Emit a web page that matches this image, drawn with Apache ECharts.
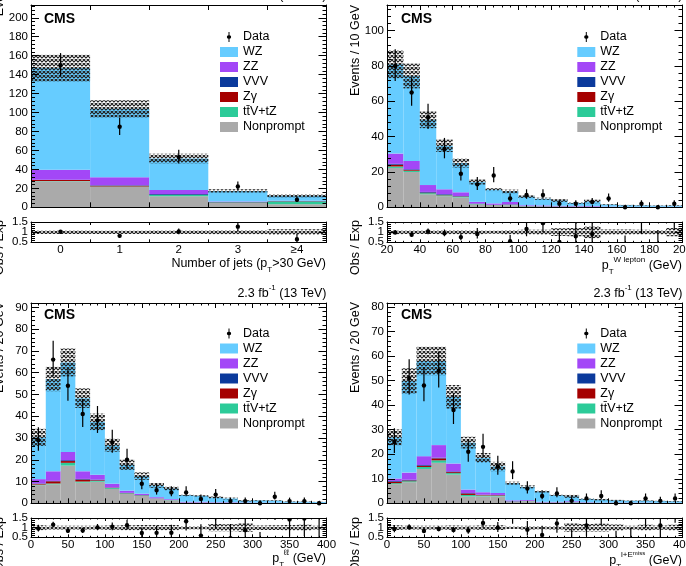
<!DOCTYPE html>
<html>
<head>
<meta charset="utf-8">
<script src="https://cdn.jsdelivr.net/npm/echarts@6/dist/echarts.min.js"></script>
<style>
  html, body { margin: 0; padding: 0; background: #fff; }
  #chart { width: 686px; height: 566px; }
</style>
</head>
<body>
<div id="chart"></div>
<script>
// --- number of jets (top left) ---
const njetEdges = [-0.5, 0.5, 1.5, 2.5, 3.5, 4.5]
const njetLabels = ['0', '1', '2', '3', '≥4']
const njetNonprompt = [27.5, 21.5, 11.7, 4.5, 3.2]
const njetTTV = [0.3, 0.5, 1.2, 0.5, 3.0]
const njetZg = [1.0, 0.8, 0.3, 0.2, 0.1]
const njetVVV = [0.2, 0.5, 0.8, 0.3, 0.3]
const njetZZ = [10.5, 8.4, 4.3, 0.6, 0.4]
const njetWZ = [107.5, 72.3, 33.2, 11.2, 5.3]
const njetData = [150, 85, 53, 22, 8]
const njetUnc = [14, 9, 5, 1.8, 1.7]

// --- pT of the W lepton (top right) ---
const lepEdges = [20, 30, 40, 50, 60, 70, 80, 90, 100, 110, 120, 130, 140, 150, 160, 170, 180, 190, 200]
const lepNonprompt = [22.3, 20.0, 7.4, 6.3, 5.6, 1.5, 1.0, 1.2, 0.5, 0.4, 0.3, 0.3, 0.2, 0.1, 0.1, 0.1, 0.1, 0.1]
const lepTTV = [0.8, 0.7, 0.6, 0.5, 0.4, 0.3, 0.2, 0.2, 0.1, 0.1, 0.1, 0.1, 0.1, 0.05, 0.05, 0.05, 0.05, 0.05]
const lepZg = [1.0, 0.4, 0.3, 0.2, 0.2, 0.1, 0.1, 0.1, 0.05, 0.05, 0.05, 0, 0, 0, 0, 0, 0, 0]
const lepVVV = [0.5, 0.4, 0.4, 0.4, 0.2, 0.2, 0.1, 0.2, 0.1, 0.1, 0.1, 0.1, 0.1, 0.05, 0.05, 0.05, 0.05, 0.05]
const lepZZ = [5.8, 4.7, 3.9, 2.8, 2.1, 1.0, 0.8, 1.3, 0.4, 0.4, 0.3, 0.3, 0.3, 0.2, 0.1, 0.1, 0.1, 0.1]
const lepWZ = [50.6, 48.1, 36.9, 24.6, 16.6, 11.2, 7.8, 6.0, 4.9, 3.8, 3.0, 1.7, 2.6, 1.1, 0.9, 0.8, 0.6, 0.6]
const lepData = [80, 65, 51, 33, 19, 13, 18, 5, 7, 7, 2, 2, 3, 5, 0, 2, 0, 2]
const lepUnc = [8, 7, 4.7, 3.5, 2.6, 1.4, 0.8, 1.0, 0.7, 0.6, 0.75, 0.5, 1.0, 0.2, 0.15, 0.13, 0.1, 0.18]

// --- pT of the dilepton pair (bottom left) ---
const llEdges = [0, 20, 40, 60, 80, 100, 120, 140, 160, 180, 200, 220, 240, 260, 280, 300, 320, 340, 360, 380, 400]
const llNonprompt = [8.3, 8.7, 17.3, 9.5, 9.9, 6.6, 4.3, 3.4, 2.1, 1.4, 0.3, 0.3, 0.2, 0.2, 0.1, 0.1, 0.1, 0.05, 0.05, 0.05]
const llTTV = [0.3, 0.4, 1.3, 0.5, 0.4, 0.4, 0.3, 0.2, 0.1, 0.1, 0.05, 0.05, 0.05, 0.05, 0.05, 0.05, 0.05, 0.05, 0.05, 0.05]
const llZg = [0.3, 1.0, 0.8, 0.9, 0.3, 0.2, 0.1, 0.1, 0.05, 0, 0, 0, 0, 0, 0, 0, 0, 0, 0, 0]
const llVVV = [0.2, 0.2, 0.4, 0.3, 0.3, 0.1, 0.1, 0.1, 0.05, 0.05, 0.05, 0.05, 0.05, 0.05, 0.05, 0.05, 0.05, 0.05, 0.05, 0.05]
const llZZ = [2.0, 4.4, 3.8, 3.5, 2.2, 1.7, 1.0, 0.6, 0.5, 0.35, 0.3, 0.3, 0.2, 0.2, 0.15, 0.1, 0.1, 0.08, 0.08, 0.05]
const llWZ = [19.2, 42.4, 41.1, 33.6, 24.3, 17.7, 11.9, 8.1, 5.4, 4.9, 3.05, 2.7, 2.1, 1.7, 0.8, 1.0, 0.9, 0.47, 0.45, 0.4]
const llData = [29, 66, 54, 41, 38, 28, 20, 9, 6, 5, 5, 2, 4, 1, 1, 0, 3, 1, 1, 0]
const llUnc = [3.9, 5.6, 6.4, 4.5, 3.8, 3.0, 2.3, 1.7, 1.1, 0.9, 0.3, 0.3, 0.5, 0.4, 0.25, 0.15, 0.15, 0.1, 0.1, 0.06]

// --- pT of lepton + MET (bottom right) ---
const metEdges = [0, 20, 40, 60, 80, 100, 120, 140, 160, 180, 200, 220, 240, 260, 280, 300, 320, 340, 360, 380, 400]
const metNonprompt = [7.8, 8.6, 14.0, 16.5, 11.7, 2.8, 2.8, 2.8, 0.6, 0.8, 0.3, 0.3, 0.4, 0.2, 0.1, 0.1, 0.1, 0.1, 0.05, 0.05]
const metTTV = [0.4, 0.4, 0.8, 1.0, 0.6, 0.6, 0.4, 0.3, 0.1, 0.1, 0.05, 0.05, 0.05, 0.05, 0.05, 0.05, 0.05, 0.05, 0.05, 0.05]
const metZg = [0.6, 0.3, 0.5, 0.8, 0.4, 0.6, 0.2, 0.2, 0.05, 0.05, 0, 0, 0, 0, 0, 0, 0, 0, 0, 0]
const metVVV = [0.3, 0.3, 0.3, 0.3, 0.3, 0.2, 0.1, 0.1, 0.1, 0.1, 0.05, 0.05, 0.1, 0.05, 0.05, 0.05, 0.05, 0.05, 0.05, 0.05]
const metZZ = [1.0, 2.9, 3.6, 5.1, 3.2, 1.4, 1.0, 0.8, 0.35, 0.3, 0.2, 0.2, 0.3, 0.15, 0.1, 0.1, 0.1, 0.1, 0.05, 0.05]
const metWZ = [16.8, 37.4, 38.8, 34.3, 27.2, 19.1, 14.0, 10.8, 7.0, 5.35, 4.2, 2.7, 2.0, 1.35, 1.2, 0.9, 0.7, 0.7, 0.7, 0.6]
const metData = [25, 51, 48, 54, 38, 21, 23, 15, 13, 6, 3, 4, 1, 2, 3, 0, 0, 2, 1, 2]
const metUnc = [3.2, 5.1, 5.8, 5.8, 4.8, 2.4, 2.0, 1.9, 0.6, 0.6, 0.4, 0.3, 0.6, 0.35, 0.3, 0.2, 0.1, 0.15, 0.1, 0.12]

// stack order, bottom to top
const NAMES = ['Nonprompt', 'tt\u0304V+tZ', 'Zγ', 'VVV', 'ZZ', 'WZ']
const COLORS = ['#aaaaaa', '#2ccb99', '#a50000', '#0b3a9c', '#a347f7', '#66ccff']
const FONT = "'Liberation Sans', Arial, Helvetica, sans-serif"

function isMult(v, step) {
  const q = v / step
  return Math.abs(q - Math.round(q)) < 1e-6
}
const near = (a, b) => Math.abs(a - b) < 1e-6

const PANELS = [
  {
    edges: njetEdges, comps: [njetNonprompt, njetTTV, njetZg, njetVVV, njetZZ, njetWZ],
    data: njetData, unc: njetUnc,
    left: 31, top: 5, height: 202.3, ratioTop: 222, ratioHeight: 20.3,
    yMax: 213.5, yStep: 20,
    xMin: -0.5, xMax: 4.5, xStep: 1, xMinor: 0, xLabelStep: 0.5,
    xLabel: v => isMult(v, 1) ? njetLabels[Math.round(v)] : '',
    legendLeft: 220, legendTop: 29.5
  },
  {
    edges: lepEdges, comps: [lepNonprompt, lepTTV, lepZg, lepVVV, lepZZ, lepWZ],
    data: lepData, unc: lepUnc,
    left: 387, top: 5, height: 202.3, ratioTop: 222, ratioHeight: 20.3,
    yMax: 114.5, yStep: 20,
    xMin: 20, xMax: 200, xStep: 20, xMinor: 4,
    xLabel: v => isMult(v, 20) ? String(v) : '',
    legendLeft: 577.3, legendTop: 29.5
  },
  {
    edges: llEdges, comps: [llNonprompt, llTTV, llZg, llVVV, llZZ, llWZ],
    data: llData, unc: llUnc,
    left: 31, top: 303, height: 200.3, ratioTop: 518, ratioHeight: 19.3,
    yMax: 92, yStep: 10,
    xMin: 0, xMax: 400, xStep: 50, xMinor: 5,
    xLabel: v => isMult(v, 50) ? String(v) : '',
    legendLeft: 220, legendTop: 326
  },
  {
    edges: metEdges, comps: [metNonprompt, metTTV, metZg, metVVV, metZZ, metWZ],
    data: metData, unc: metUnc,
    left: 387, top: 303, height: 200.3, ratioTop: 518, ratioHeight: 19.3,
    yMax: 81.6, yStep: 10,
    xMin: 0, xMax: 400, xStep: 50, xMinor: 5,
    xLabel: v => isMult(v, 50) ? String(v) : '',
    legendLeft: 577.3, legendTop: 326
  }
]
const PANEL_WIDTH = 295.5

// crosshatch used for the uncertainty band
const hatch = (() => {
  const c = document.createElement('canvas')
  c.width = 4
  c.height = 4
  const g = c.getContext('2d')
  g.strokeStyle = '#222'
  g.lineWidth = 1.15
  g.beginPath()
  g.moveTo(0, 0); g.lineTo(4, 4)
  g.moveTo(4, 0); g.lineTo(0, 4)
  g.stroke()
  return c
})()

// approximate Poisson errors on the data
function poisErr(n) {
  const s = Math.sqrt(n + 0.25)
  return [n > 0 ? s - 0.5 : 0, s + 0.5]
}

function valueAxis(o) {
  return {
    type: 'value', gridIndex: o.grid, position: o.position,
    min: o.min, max: o.max, interval: o.interval,
    z: 5, silent: true,
    axisLine: { show: o.line !== false, onZero: false, lineStyle: { color: '#000', width: 1 } },
    axisTick: { show: o.tick !== false, inside: true, length: o.tickLen || 5, lineStyle: { color: '#000', width: 1 } },
    minorTick: { show: !!o.minor, splitNumber: o.minor || 5, length: (o.tickLen || 5) / 2, lineStyle: { color: '#000', width: 1 } },
    splitLine: { show: false },
    minorSplitLine: { show: false },
    axisLabel: o.labels ? {
      show: true, margin: o.margin, color: '#000', fontFamily: FONT, fontSize: 11.5,
      formatter: o.labels, showMinLabel: true, showMaxLabel: true, hideOverlap: false, interval: 0
    } : { show: false },
    axisPointer: { show: false }
  }
}

function renderBox(params, api) {
  const p0 = api.coord([api.value(0), api.value(2)])
  const p1 = api.coord([api.value(1), api.value(3)])
  return {
    type: 'rect',
    shape: { x: p0[0], y: p1[1], width: p1[0] - p0[0], height: p0[1] - p1[1] },
    style: { fill: api.visual('color') }
  }
}

function renderBand(params, api) {
  const p0 = api.coord([api.value(0), api.value(2)])
  const p1 = api.coord([api.value(1), api.value(3)])
  return {
    type: 'rect',
    shape: { x: p0[0], y: p1[1], width: p1[0] - p0[0], height: p0[1] - p1[1] },
    style: { fill: { image: hatch, repeat: 'repeat' } }
  }
}

function renderPoint(params, api) {
  const c = api.coord([api.value(0), api.value(1)])
  const lo = api.coord([api.value(0), api.value(2)])
  const hi = api.coord([api.value(0), api.value(3)])
  return {
    type: 'group',
    children: [
      { type: 'line', shape: { x1: c[0], y1: lo[1], x2: c[0], y2: hi[1] }, style: { stroke: '#000', lineWidth: 1.2 } },
      { type: 'circle', shape: { cx: c[0], cy: c[1], r: 2.2 }, style: { fill: '#000' } }
    ]
  }
}

const grid = []
const xAxis = []
const yAxis = []
const series = []
const legend = []

const DATA_ICON = 'path://M4.5,0H5.5V3.35A1.65,1.65 0 0 1 5.5,6.65V10H4.5V6.65A1.65,1.65 0 0 1 4.5,3.35Z'
const legendItems = [
  { name: 'Data', icon: DATA_ICON },
  { name: 'WZ', icon: 'rect' },
  { name: 'ZZ', icon: 'rect' },
  { name: 'VVV', icon: 'rect' },
  { name: 'Zγ', icon: 'rect' },
  { name: NAMES[1], icon: 'rect' },
  { name: 'Nonprompt', icon: 'rect' }
]

PANELS.forEach((p, i) => {
  const gMain = grid.length
  grid.push({ left: p.left, top: p.top, width: PANEL_WIDTH, height: p.height, containLabel: false, outerBoundsMode: 'none' })
  const gRatio = grid.length
  grid.push({ left: p.left, top: p.ratioTop, width: PANEL_WIDTH, height: p.ratioHeight, containLabel: false, outerBoundsMode: 'none' })

  const xBase = { min: p.xMin, max: p.xMax, interval: p.xStep, minor: p.xMinor }
  const xMain = xAxis.length
  xAxis.push(valueAxis({ ...xBase, grid: gMain, position: 'bottom', tickLen: 5 }))
  xAxis.push(valueAxis({ ...xBase, grid: gMain, position: 'top', tickLen: 5 }))
  const xRatio = xAxis.length
  xAxis.push(valueAxis({ ...xBase, grid: gRatio, position: 'bottom', tickLen: 3, margin: 1.5, labels: p.xLabelStep ? null : p.xLabel }))
  xAxis.push(valueAxis({ ...xBase, grid: gRatio, position: 'top', tickLen: 3 }))
  if (p.xLabelStep) {
    // labels at bin centres while ticks stay on the bin edges
    xAxis.push(valueAxis({
      grid: gRatio, position: 'bottom', min: p.xMin, max: p.xMax, interval: p.xLabelStep,
      line: false, tick: false, margin: 1.5, labels: p.xLabel
    }))
  }

  const yMain = yAxis.length
  yAxis.push(valueAxis({ grid: gMain, position: 'left', min: 0, max: p.yMax, interval: p.yStep, minor: 5, tickLen: 8, margin: 3,
    labels: v => isMult(v, p.yStep) ? String(v) : '' }))
  yAxis.push(valueAxis({ grid: gMain, position: 'right', min: 0, max: p.yMax, interval: p.yStep, minor: 5, tickLen: 8 }))
  const yRatio = yAxis.length
  yAxis.push(valueAxis({ grid: gRatio, position: 'left', min: 0.5, max: 1.5, interval: 0.5, minor: 5, tickLen: 8, margin: 3,
    labels: v => near(v, 0.5) ? '0.5' : near(v, 1.5) ? '1.5' : '' }))
  yAxis.push(valueAxis({ grid: gRatio, position: 'right', min: 0.5, max: 1.5, interval: 0.5, minor: 5, tickLen: 8 }))
  // the middle ratio label sits on its own axis so it is not dropped as overlapping
  yAxis.push(valueAxis({ grid: gRatio, position: 'left', min: 0.5, max: 1.5, interval: 0.5, line: false, tick: false, margin: 3,
    labels: v => near(v, 1) ? '1' : '' }))

  const nBins = p.data.length
  const totals = []
  const cum = new Array(nBins).fill(0)
  p.comps.forEach((vals, k) => {
    series.push({
      type: 'custom', name: NAMES[k], xAxisIndex: xMain, yAxisIndex: yMain, z: 2,
      itemStyle: { color: COLORS[k] },
      renderItem: renderBox,
      data: vals.map((v, b) => {
        const item = [p.edges[b], p.edges[b + 1], cum[b], cum[b] + v]
        cum[b] += v
        return item
      })
    })
  })
  for (let b = 0; b < nBins; b++) totals.push(cum[b])

  // total uncertainty band, main and ratio
  series.push({
    type: 'custom', name: 'unc', xAxisIndex: xMain, yAxisIndex: yMain, z: 3,
    renderItem: renderBand,
    data: totals.map((t, b) => [p.edges[b], p.edges[b + 1], t - p.unc[b], t + p.unc[b]])
  })
  series.push({
    type: 'custom', name: 'unc', xAxisIndex: xRatio, yAxisIndex: yRatio, z: 3, clip: true,
    renderItem: renderBand,
    data: totals.map((t, b) => [p.edges[b], p.edges[b + 1], 1 - p.unc[b] / t, 1 + p.unc[b] / t])
  })

  // data points
  const centres = p.data.map((d, b) => (p.edges[b] + p.edges[b + 1]) / 2)
  series.push({
    type: 'custom', name: 'Data', xAxisIndex: xMain, yAxisIndex: yMain, z: 4,
    itemStyle: { color: '#000' },
    renderItem: renderPoint,
    data: p.data.map((d, b) => {
      const e = poisErr(d)
      return [centres[b], d, d - e[0], d + e[1]]
    })
  })
  series.push({
    type: 'custom', name: 'Data', xAxisIndex: xRatio, yAxisIndex: yRatio, z: 4, clip: true,
    itemStyle: { color: '#000' },
    renderItem: renderPoint,
    data: p.data.map((d, b) => {
      const e = poisErr(d)
      const t = totals[b]
      return [centres[b], d / t, (d - e[0]) / t, (d + e[1]) / t]
    })
  })

  legend.push({
    orient: 'vertical', left: p.legendLeft, top: p.legendTop,
    itemWidth: 18, itemHeight: 10, itemGap: 0, padding: 0,
    selectedMode: false,
    textStyle: { fontFamily: FONT, fontSize: 12.5, color: '#000', lineHeight: 15 },
    data: legendItems
  })
})

// texts: experiment label, luminosity, axis titles
const RICH = {
  n: { fontFamily: FONT, fontSize: 12.5, lineHeight: 20, color: '#000' },
  sub: { fontFamily: FONT, fontSize: 8, lineHeight: 8, verticalAlign: 'bottom', color: '#000' },
  sup: { fontFamily: FONT, fontSize: 8, lineHeight: 6, verticalAlign: 'top', color: '#000' },
  tiny: { fontFamily: FONT, fontSize: 6, lineHeight: 4, verticalAlign: 'top', color: '#000' }
}

const graphic = []
function addText(x, y, text, style, rotation) {
  graphic.push({
    type: 'text', x, y, rotation: rotation || 0, z: 50, silent: true,
    style: Object.assign({ text, fill: '#000', fontFamily: FONT, fontSize: 12.5, align: 'left', verticalAlign: 'middle', rich: RICH }, style)
  })
}

const cmsPos = [[44, 19], [401, 19], [44, 315], [401, 315]]
cmsPos.forEach(([x, y]) => addText(x, y, 'CMS', { fontSize: 14, fontWeight: 'bold' }))

const lumiPos = [[326.5, -4.5], [682.5, -4.5], [326.5, 293.3], [682.5, 293.3]]
lumiPos.forEach(([x, y]) => addText(x, y, '{n|2.3 fb}{sup|-1}{n| (13 TeV)}', { align: 'right' }))

const V = Math.PI / 2
addText(0, -22, 'Events', { align: 'right' }, V)
addText(355.3, 5, 'Events / 10 GeV', { align: 'right' }, V)
addText(0, 302, 'Events / 20 GeV', { align: 'right' }, V)
addText(355.3, 302, 'Events / 20 GeV', { align: 'right' }, V)
addText(0, 220, 'Obs / Exp', { align: 'right' }, V)
addText(355.3, 220, 'Obs / Exp', { align: 'right' }, V)
addText(0, 517, 'Obs / Exp', { align: 'right' }, V)
addText(355.3, 517, 'Obs / Exp', { align: 'right' }, V)

addText(326, 264, '{n|Number of jets (p}{sub|T}{n|>30 GeV)}', { align: 'right' })
addText(682, 266, '{n|p}{sub|T}{sup|W lepton}{n| (GeV)}', { align: 'right' })
addText(326, 558.5, '{n|p}{sub|T}{sup|ℓℓ}{n| (GeV)}', { align: 'right' })
addText(682, 560.5, '{n|p}{sub|T}{sup|l+E}{tiny|miss}{n| (GeV)}', { align: 'right' })

const chart = echarts.init(document.getElementById('chart'), null, { renderer: 'canvas' })
chart.setOption({
  animation: false,
  backgroundColor: '#fff',
  textStyle: { fontFamily: FONT },
  grid, xAxis, yAxis, legend, series, graphic,
  tooltip: { show: false }
})
</script>
</body>
</html>
